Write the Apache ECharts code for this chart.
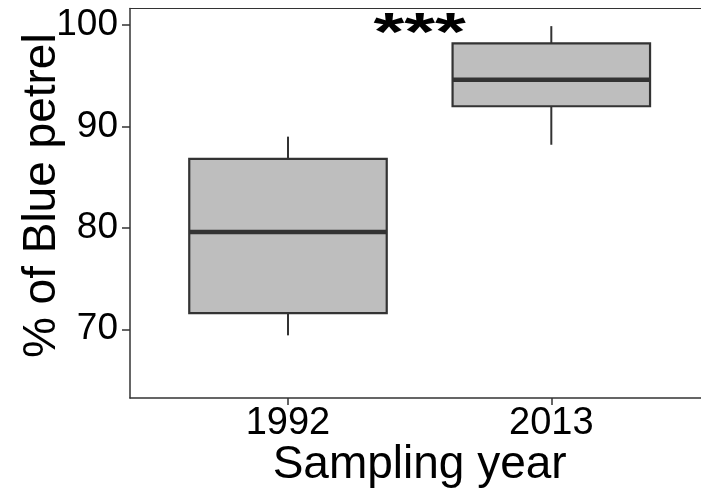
<!DOCTYPE html>
<html>
<head>
<meta charset="utf-8">
<script src="https://cdn.jsdelivr.net/npm/echarts@6/dist/echarts.min.js"></script>
<style>
html,body{margin:0;padding:0;background:#fff;}
#chart{width:701px;height:488px;}
</style>
</head>
<body>
<div id="chart"></div>
<script>
// Data
const years = ['1992', '2013'];
const whiskerLow  = [69.4, 88.2];
const q1          = [71.6, 92.0];
const median      = [79.6, 94.6];
const q3          = [86.8, 98.2];
const whiskerHigh = [89.0, 99.9];
const yTicks = [70, 80, 90, 100];
const annotation = [[1.5, 100, '***']];

const FONT = "'Liberation Sans', Arial, sans-serif";
const boxData = years.map((y, i) => [i + 1, whiskerLow[i], q1[i], median[i], q3[i], whiskerHigh[i]]);

const chart = echarts.init(document.getElementById('chart'), null, {renderer: 'canvas'});
chart.setOption({
  animation: false,
  backgroundColor: '#fff',
  grid: {
    left: 130, top: 8.5, height: 389.5, width: 579.3,
    containLabel: false, outerBoundsMode: 'none',
    show: false
  },
  xAxis: [{
    type: 'value', min: 0.4, max: 2.6, position: 'bottom',
    splitLine: {show: false},
    axisLine: {show: true, onZero: false, lineStyle: {color: '#333', width: 1.5}},
    axisTick: {show: true, length: 7, customValues: [1, 2], lineStyle: {color: '#333', width: 1.5}},
    axisLabel: {
      customValues: [1, 2], margin: 7,
      formatter: v => years[Math.round(v) - 1] || '',
      fontSize: 38, color: '#000', fontFamily: FONT
    },
    name: 'Sampling year', nameLocation: 'middle', nameGap: 44, nameMoveOverlap: false,
    nameTextStyle: {fontSize: 46, color: '#000', fontFamily: FONT}
  }, {
    type: 'value', min: 0.4, max: 2.6, position: 'top',
    splitLine: {show: false},
    axisLine: {show: true, onZero: false, lineStyle: {color: '#333', width: 1.2}},
    axisTick: {show: false},
    axisLabel: {show: false}
  }],
  yAxis: {
    type: 'value', min: 63.22, max: 101.64,
    splitLine: {show: false},
    axisLine: {show: true, onZero: false, lineStyle: {color: '#333', width: 1.5}},
    axisTick: {show: true, length: 8, customValues: yTicks, lineStyle: {color: '#333', width: 1.5}},
    axisLabel: {
      customValues: yTicks, margin: 12,
      fontSize: 37, color: '#000', fontFamily: FONT
    },
    name: '% of Blue petrel', nameLocation: 'middle', nameGap: 65, nameRotate: 90, nameMoveOverlap: false,
    nameTextStyle: {fontSize: 46, color: '#000', fontFamily: FONT, padding: [0, 0, 0, 15]}
  },
  series: [
    {
      type: 'custom',
      xAxisIndex: 0,
      data: boxData,
      encode: {x: 0, y: [1, 2, 3, 4, 5]},
      renderItem: function (params, api) {
        const x = api.value(0);
        const pLow = api.coord([x, api.value(1)]);
        const pQ1 = api.coord([x, api.value(2)]);
        const pMed = api.coord([x, api.value(3)]);
        const pQ3 = api.coord([x, api.value(4)]);
        const pHigh = api.coord([x, api.value(5)]);
        const half = api.size([0.75, 0])[0] / 2;
        const cx = pMed[0];
        const stroke = '#333';
        return {
          type: 'group',
          children: [
            {type: 'line', shape: {x1: cx, y1: pLow[1], x2: cx, y2: pQ1[1]}, style: {stroke: stroke, lineWidth: 2}},
            {type: 'line', shape: {x1: cx, y1: pQ3[1], x2: cx, y2: pHigh[1]}, style: {stroke: stroke, lineWidth: 2}},
            {type: 'rect', shape: {x: cx - half, y: pQ3[1], width: half * 2, height: pQ1[1] - pQ3[1]},
              style: {fill: '#bebebe', stroke: stroke, lineWidth: 2.2}},
            {type: 'line', shape: {x1: cx - half, y1: pMed[1], x2: cx + half, y2: pMed[1]}, style: {stroke: stroke, lineWidth: 4.5}}
          ]
        };
      },
      z: 2
    },
    {
      type: 'custom',
      xAxisIndex: 0,
      data: annotation,
      encode: {x: 0, y: 1},
      renderItem: function (params, api) {
        const p = api.coord([api.value(0), api.value(1)]);
        return {
          type: 'text',
          x: p[0], y: p[1] - 17,
          scaleX: 1.1, scaleY: 0.75,
          style: {
            text: annotation[params.dataIndex][2],
            fontSize: 72, fontWeight: 'bold', fontFamily: FONT,
            fill: '#000', align: 'center', verticalAlign: 'top'
          }
        };
      },
      z: 3
    }
  ]
});
</script>
</body>
</html>
